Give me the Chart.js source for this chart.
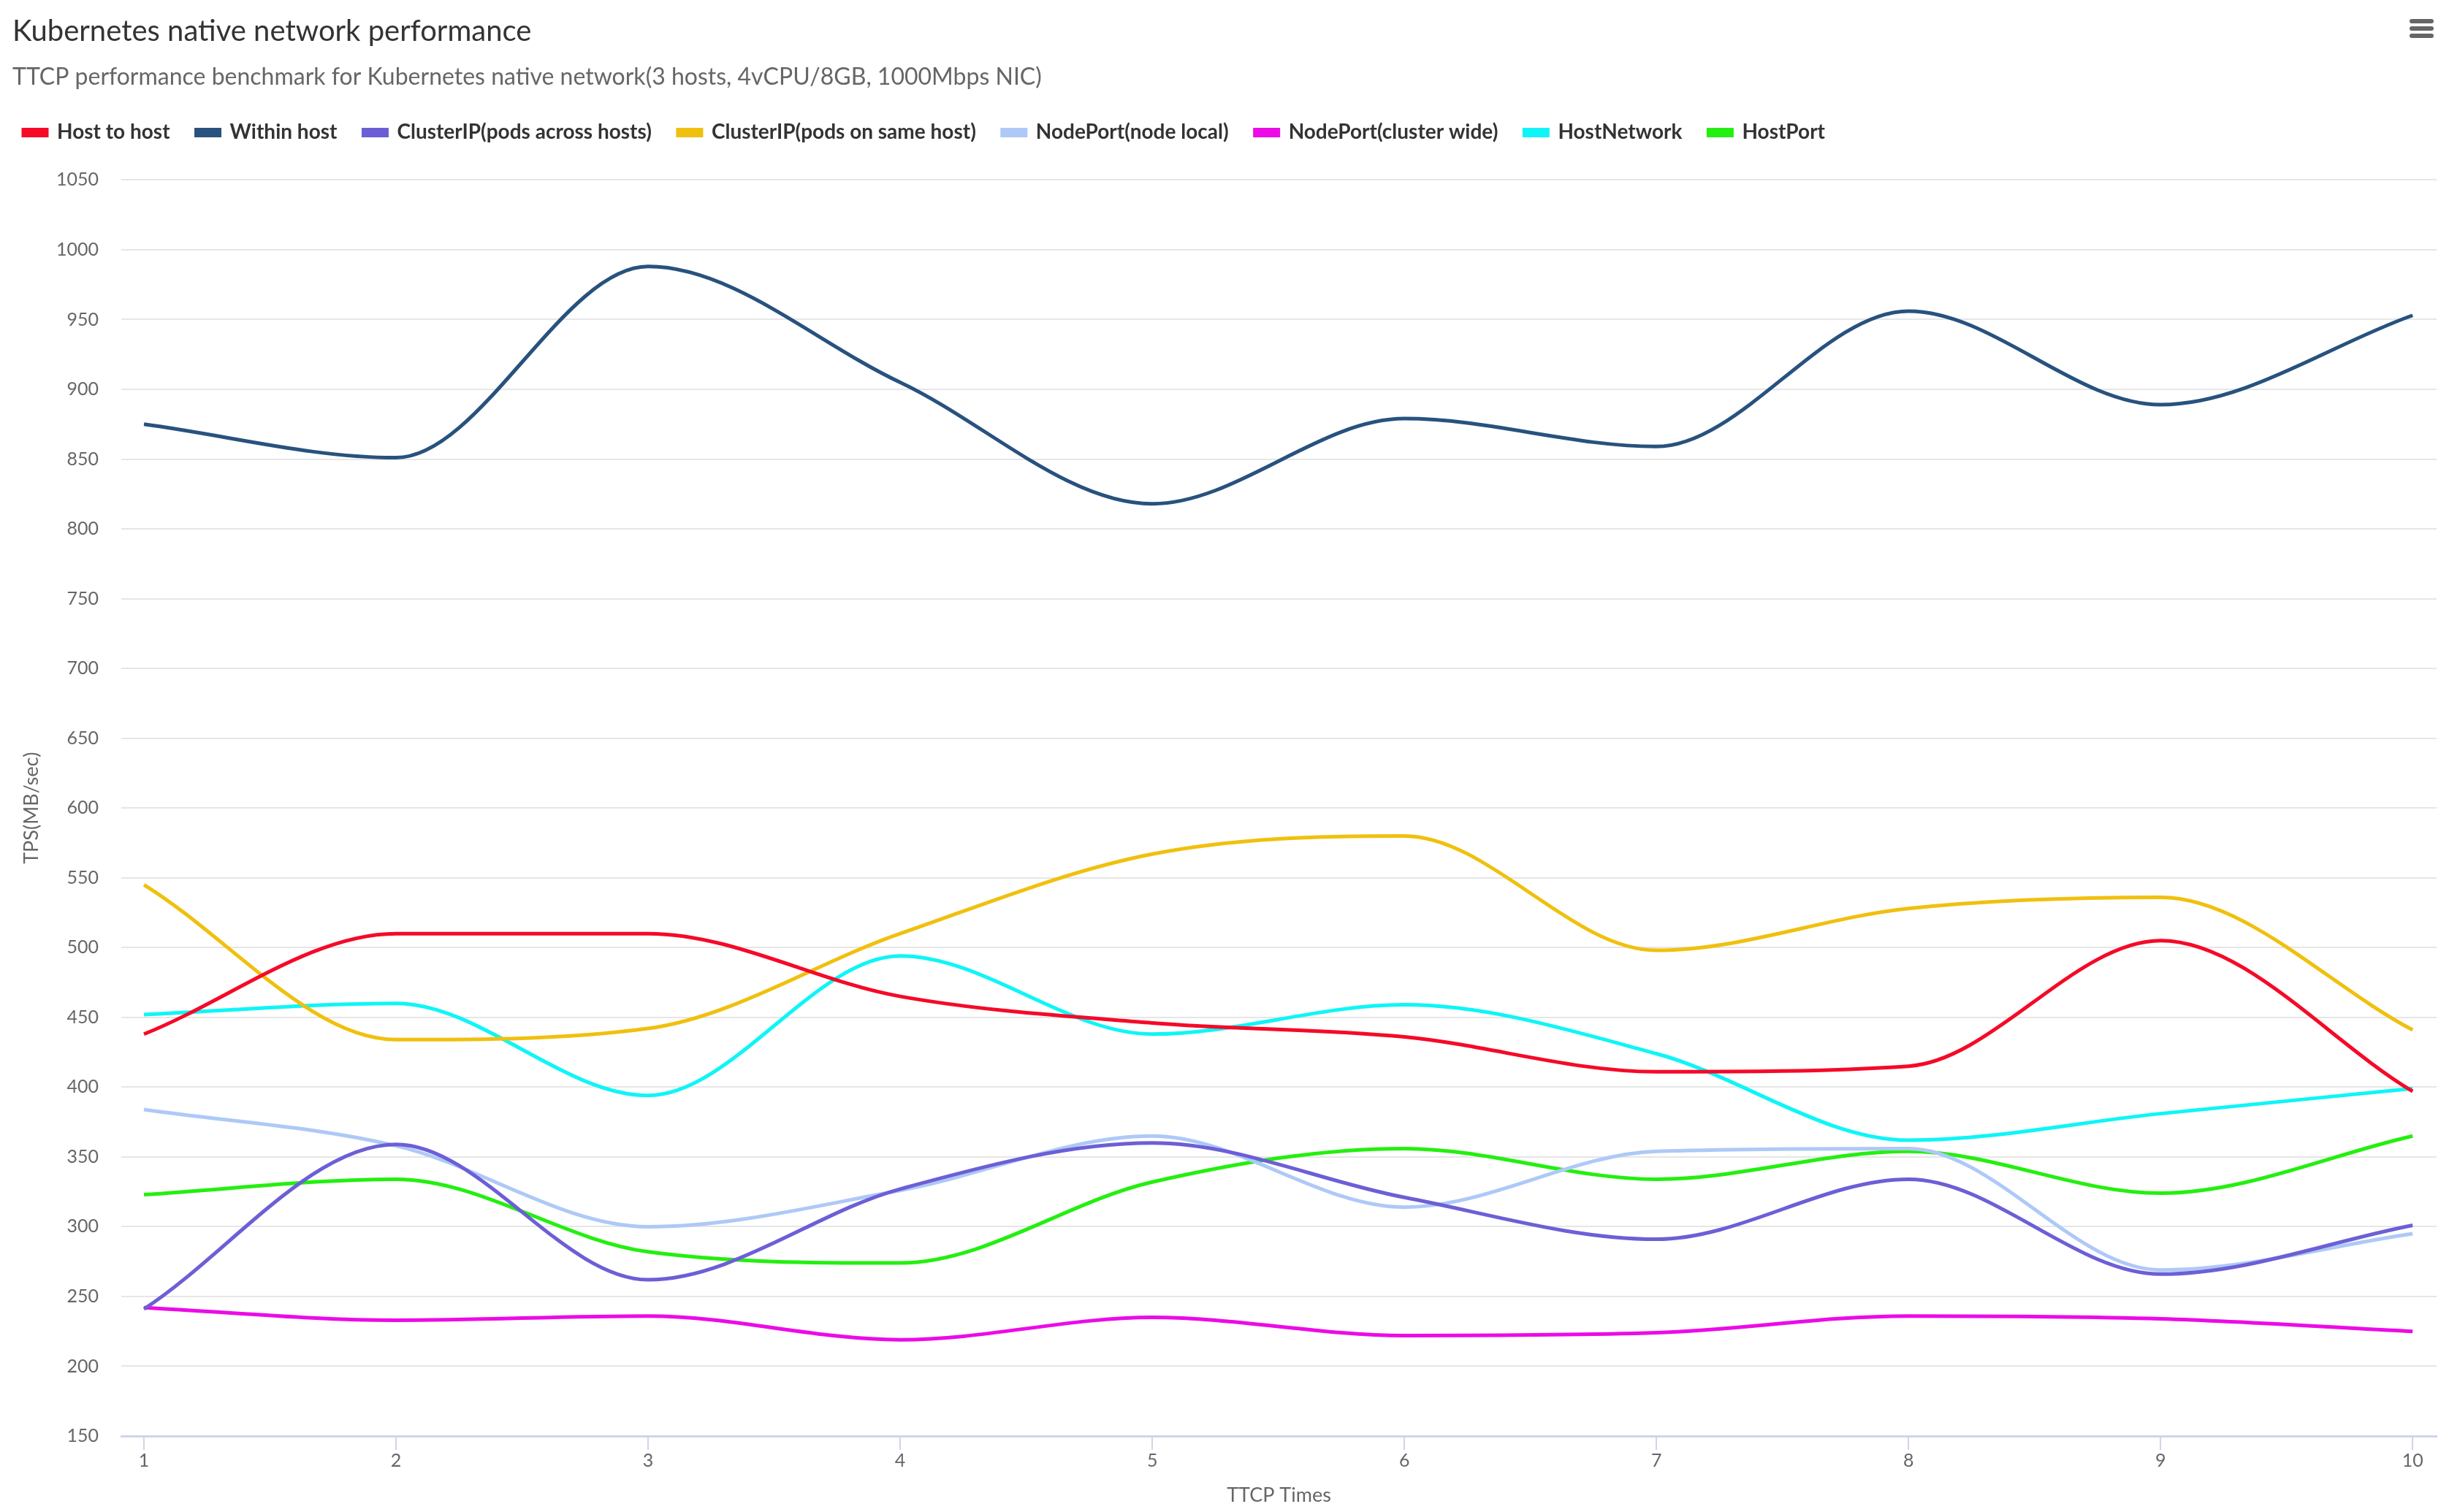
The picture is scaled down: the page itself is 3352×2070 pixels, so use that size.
<!DOCTYPE html>
<html>
<head>
<meta charset="utf-8">
<style>
  html, body { margin: 0; padding: 0; background: #fff; }
  #wrap { position: relative; width: 3352px; height: 2070px; }
</style>
<script src="https://cdn.jsdelivr.net/npm/chart.js@4/dist/chart.umd.min.js"></script>
</head>
<body>
<div id="wrap"><canvas id="perfChart"></canvas></div>
<script>
const times = [1, 2, 3, 4, 5, 6, 7, 8, 9, 10];
const yTicks = [150, 200, 250, 300, 350, 400, 450, 500, 550, 600, 650, 700, 750, 800, 850, 900, 950, 1000, 1050];

const hostToHost      = [438, 510, 510, 465, 446, 436, 411, 415, 505, 397];
const withinHost      = [875, 851, 988, 905, 818, 879, 859, 956, 889, 953];
const clusterIpAcross = [241, 359, 262, 327, 360, 321, 291, 334, 266, 301];
const clusterIpSame   = [545, 434, 442, 510, 567, 580, 498, 528, 536, 441];
const nodePortLocal   = [384, 358, 300, 326, 365, 314, 354, 356, 269, 295];
const nodePortCluster = [242, 233, 236, 219, 235, 222, 224, 236, 234, 225];
const hostNetwork     = [452, 460, 394, 494, 438, 459, 424, 362, 381, 399];
const hostPort        = [323, 334, 282, 274, 332, 356, 334, 354, 324, 365];

const seriesNames = ["Host to host", "Within host", "ClusterIP(pods across hosts)", "ClusterIP(pods on same host)",
  "NodePort(node local)", "NodePort(cluster wide)", "HostNetwork", "HostPort"];
const seriesValues = [hostToHost, withinHost, clusterIpAcross, clusterIpSame, nodePortLocal, nodePortCluster, hostNetwork, hostPort];
const seriesColors = ["#f50a28", "#28527e", "#6c5fd6", "#f0c00e", "#aec9f7", "#ec0be6", "#0ff5f7", "#24ef10"];

const FONT = "Lato, 'Open Sans', sans-serif";

// small hamburger menu (exporting button look)
const menuIcon = {
  id: "menuIcon",
  afterDraw(chart) {
    const ctx = chart.ctx;
    ctx.save();
    ctx.fillStyle = "#666666";
    [26, 36, 46].forEach(y => {
      ctx.beginPath();
      ctx.roundRect(3298, y, 33, 6, 3);
      ctx.fill();
    });
    ctx.restore();
  }
};

// move legend up/left so the gap below it and the item spacing match
const legendShift = {
  id: "legendShift",
  afterLayout(chart) {
    chart.legend.left -= 21;
    chart.legend.top -= 41;
  }
};

new Chart(document.getElementById("perfChart"), {
  type: "line",
  data: {
    datasets: seriesNames.map((name, i) => ({
      label: name,
      data: seriesValues[i].map((v, j) => ({ x: times[j], y: v })),
      borderColor: seriesColors[i],
      backgroundColor: seriesColors[i],
      borderWidth: 5,
      pointRadius: 0,
      cubicInterpolationMode: "monotone",
      fill: false
    }))
  },
  options: {
    responsive: true,
    maintainAspectRatio: false,
    devicePixelRatio: 1,
    animation: false,
    events: [],
    layout: { padding: { left: 17, right: 17, top: 0, bottom: 0 } },
    plugins: {
      title: {
        display: true,
        text: "Kubernetes native network performance",
        align: "start",
        color: "#333333",
        font: { family: FONT, size: 40, weight: "normal" },
        padding: { top: 19, bottom: 9 }
      },
      subtitle: {
        display: true,
        text: "TTCP performance benchmark for Kubernetes native network(3 hosts, 4vCPU/8GB, 1000Mbps NIC)",
        align: "start",
        color: "#666666",
        font: { family: FONT, size: 32, weight: "normal" },
        padding: { top: 10, bottom: 48 }
      },
      legend: {
        display: true,
        align: "start",
        labels: {
          color: "#333333",
          font: { family: FONT, size: 28, weight: "bold" },
          boxWidth: 32,
          boxHeight: 8,
          padding: 36
        }
      },
      tooltip: { enabled: false }
    },
    scales: {
      x: {
        type: "linear",
        min: 0.91,
        max: 10.095,
        afterBuildTicks: axis => { axis.ticks = times.map(v => ({ value: v })); },
        afterFit: scale => { scale.height = 104; },
        grid: { drawOnChartArea: false, drawTicks: true, tickLength: 19, color: "#ccd6eb", lineWidth: 2 },
        border: { display: true, color: "#ccd6eb", width: 3 },
        ticks: { color: "#666666", font: { family: FONT, size: 25 }, padding: 0, autoSkip: false, maxRotation: 0,
                 callback: v => String(v) },
        title: { display: true, text: "TTCP Times", color: "#666666", font: { family: FONT, size: 27 }, padding: { top: 0, bottom: 7 } }
      },
      y: {
        min: 150,
        max: 1050,
        afterBuildTicks: axis => { axis.ticks = yTicks.map(v => ({ value: v })); },
        afterFit: scale => { scale.width = 149; },
        grid: { drawTicks: false, color: "#e6e6e6", lineWidth: 2 },
        border: { display: false },
        ticks: { color: "#666666", font: { family: FONT, size: 25 }, padding: 31, callback: v => String(v) },
        title: { display: true, text: "TPS(MB/sec)", color: "#666666", font: { family: FONT, size: 27 }, padding: { top: 10, bottom: 0 } }
      }
    }
  },
  plugins: [legendShift, menuIcon]
});
</script>
</body>
</html>
